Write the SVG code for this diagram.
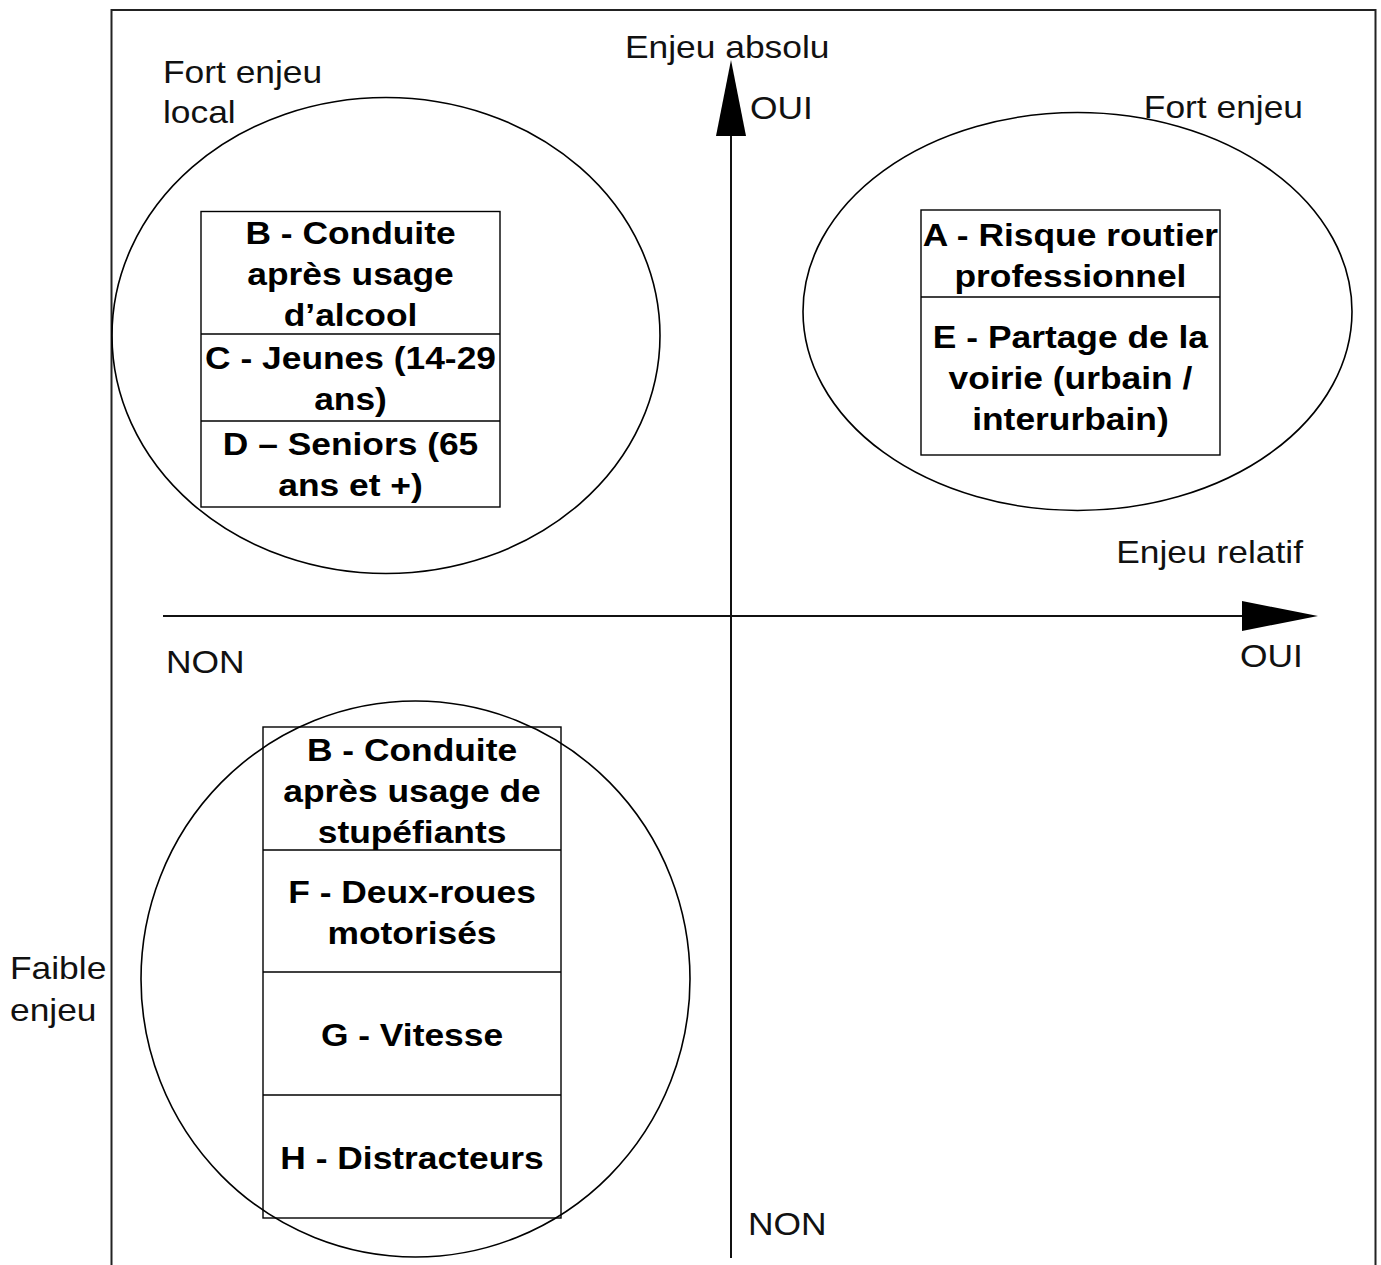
<svg xmlns="http://www.w3.org/2000/svg" width="1381" height="1265" viewBox="0 0 1381 1265">
<defs>
<style>
.frame{fill:none;stroke:#222;stroke-width:2}
.axis{fill:none;stroke:#111;stroke-width:2}
.ell{fill:none;stroke:#000;stroke-width:1.6}
.box{fill:none;stroke:#000;stroke-width:1.4}
.lbl{font-family:"Liberation Sans",Arial,sans-serif;font-size:30.5px;fill:#111}
.bt{font-family:"Liberation Sans",Arial,sans-serif;font-size:30.5px;font-weight:bold;fill:#000;text-anchor:middle}
</style>
<marker id="ah" markerUnits="userSpaceOnUse" markerWidth="76" markerHeight="30" refX="0" refY="15" orient="auto">
<path d="M0,0 L76,15 L0,30 Z" fill="#000"/>
</marker>
</defs>
<rect width="1381" height="1265" fill="#fff"/>
<path class="frame" d="M111.5,1270 V10 H1375.5 V1270"/>
<g id="connectors">
<line class="axis" x1="731" y1="1258" x2="731" y2="136" marker-end="url(#ah)"/>
<line class="axis" x1="163" y1="616" x2="1242" y2="616" marker-end="url(#ah)"/>
</g>
<g id="zone-fort-local">
<ellipse class="ell" cx="386" cy="335.5" rx="274" ry="238"/>
</g>
<g id="zone-fort">
<ellipse class="ell" cx="1077.5" cy="311.5" rx="274.5" ry="199"/>
</g>
<g id="zone-faible">
<ellipse class="ell" cx="415.5" cy="979" rx="274.5" ry="278"/>
</g>
<g id="box-left">
<rect class="box" x="201" y="211.5" width="299" height="295.5"/>
<line class="box" x1="201" y1="334" x2="500" y2="334"/>
<line class="box" x1="201" y1="421" x2="500" y2="421"/>
</g>
<g id="box-right">
<rect class="box" x="921" y="210" width="299" height="245"/>
<line class="box" x1="921" y1="297" x2="1220" y2="297"/>
</g>
<g id="box-bottom">
<rect class="box" x="263" y="727" width="298" height="491"/>
<line class="box" x1="263" y1="850" x2="561" y2="850"/>
<line class="box" x1="263" y1="972" x2="561" y2="972"/>
<line class="box" x1="263" y1="1095" x2="561" y2="1095"/>
</g>
<g id="texts" transform="scale(1.16 1)">
<text class="lbl" x="140.5" y="83">Fort enjeu</text>
<text class="lbl" x="140.5" y="123">local</text>
<text class="lbl" x="538.8" y="58">Enjeu absolu</text>
<text class="lbl" x="646.6" y="119">OUI</text>
<text class="lbl" x="1123.3" y="118" text-anchor="end">Fort enjeu</text>
<text class="lbl" x="1123.3" y="563" text-anchor="end">Enjeu relatif</text>
<text class="lbl" x="143.1" y="673">NON</text>
<text class="lbl" x="1069" y="667">OUI</text>
<text class="lbl" x="8.6" y="979">Faible</text>
<text class="lbl" x="8.6" y="1021">enjeu</text>
<text class="lbl" x="644.8" y="1235">NON</text>
<text class="bt" x="302.2" y="244">B - Conduite</text>
<text class="bt" x="302.2" y="285">après usage</text>
<text class="bt" x="302.2" y="326">d’alcool</text>
<text class="bt" x="302.2" y="369">C - Jeunes (14-29</text>
<text class="bt" x="302.2" y="410">ans)</text>
<text class="bt" x="302.2" y="455">D – Seniors (65</text>
<text class="bt" x="302.2" y="496">ans et +)</text>
<text class="bt" x="922.8" y="246">A - Risque routier</text>
<text class="bt" x="922.8" y="287">professionnel</text>
<text class="bt" x="922.8" y="348">E - Partage de la</text>
<text class="bt" x="922.8" y="389">voirie (urbain /</text>
<text class="bt" x="922.8" y="430">interurbain)</text>
<text class="bt" x="355.2" y="761">B - Conduite</text>
<text class="bt" x="355.2" y="802">après usage de</text>
<text class="bt" x="355.2" y="843">stupéfiants</text>
<text class="bt" x="355.2" y="903">F - Deux-roues</text>
<text class="bt" x="355.2" y="944">motorisés</text>
<text class="bt" x="355.2" y="1046">G - Vitesse</text>
<text class="bt" x="355.2" y="1169">H - Distracteurs</text>
</g>
</svg>
